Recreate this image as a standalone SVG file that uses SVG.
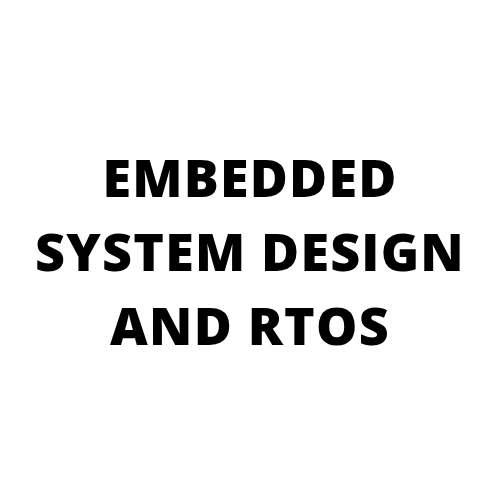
<svg xmlns="http://www.w3.org/2000/svg" width="500" height="500" viewBox="0 0 500 500">
<style>
.t{font-family:"Open Sans","Liberation Sans",sans-serif;font-weight:800;font-size:52px;fill:#000;text-anchor:middle;letter-spacing:1.2px}
</style>
<rect width="500" height="500" fill="#fff"/>
<g id="title">
<text class="t" x="250" y="197">EMBEDDED</text>
<text class="t" x="250" y="271">SYSTEM DESIGN</text>
<text class="t" x="250" y="345">AND RTOS</text>
</g>
</svg>
